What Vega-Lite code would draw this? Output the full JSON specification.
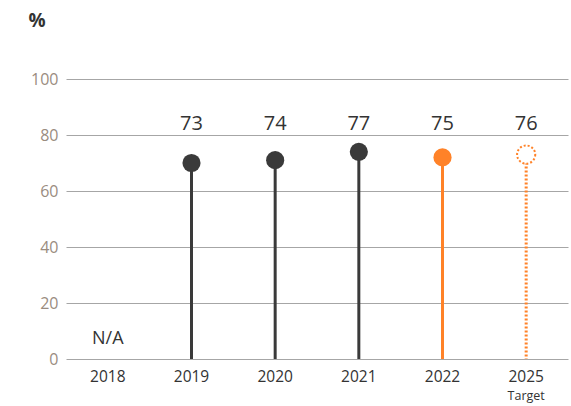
{
  "$schema": "https://vega.github.io/schema/vega-lite/v6.json",
  "width": 502,
  "height": 280,
  "autosize": "none",
  "padding": {"left": 66, "top": 79, "right": 3, "bottom": 47},
  "background": "white",
  "config": {"view": {"stroke": null}, "font": "Open Sans"},
  "data": {"values": [
    {"year": "2018", "value": null, "label": "", "type": "actual", "note": "N/A"},
    {"year": "2019", "value": 70, "label": "73", "type": "actual", "note": ""},
    {"year": "2020", "value": 71, "label": "74", "type": "actual", "note": ""},
    {"year": "2021", "value": 74, "label": "77", "type": "actual", "note": ""},
    {"year": "2022", "value": 72, "label": "75", "type": "current", "note": ""},
    {"year": "2025", "value": 73, "label": "76", "type": "target", "note": "Target"}
  ]},
  "encoding": {
    "x": {"field": "year", "type": "ordinal", "sort": null,
      "scale": {"domain": ["2018", "2019", "2020", "2021", "2022", "2025"], "paddingInner": 0, "paddingOuter": 0},
      "axis": {"title": null, "labelAngle": 0, "domain": false, "ticks": false, "labelPadding": 10, "labelFontSize": 15.5, "labelColor": "#333333", "grid": false}}
  },
  "layer": [
    {
      "transform": [{"filter": "datum.value != null"}],
      "mark": {"type": "rule"},
      "encoding": {
        "y": {"field": "value", "type": "quantitative", "scale": {"domain": [0, 100], "nice": false},
          "axis": {"title": "%", "titleAngle": 0, "titleX": -38, "titleY": -59, "titleAlign": "left", "titleBaseline": "middle", "titleFontSize": 19, "titleFontWeight": "bold", "titleColor": "#333333",
            "values": [0, 20, 40, 60, 80, 100], "domain": false, "ticks": false, "labelPadding": 8, "labelFontSize": 16, "labelColor": "#9a8c80", "grid": true, "gridColor": "#a6a6a6", "gridWidth": 1}},
        "y2": {"datum": 0},
        "color": {"field": "type", "type": "nominal", "legend": null,
          "scale": {"domain": ["actual", "current", "target"], "range": ["#3a3a3a", "#ff8228", "#ff8228"]}},
        "strokeDash": {"field": "type", "type": "nominal", "legend": null,
          "scale": {"domain": ["actual", "current", "target"], "range": [[1, 0], [1, 0], [2, 2]]}},
        "strokeWidth": {"field": "type", "type": "nominal", "legend": null,
          "scale": {"domain": ["actual", "current", "target"], "range": [3, 3, 2]}}
      }
    },
    {
      "transform": [{"filter": "datum.value != null && datum.type != 'target'"}],
      "mark": {"type": "circle", "size": 330, "opacity": 1},
      "encoding": {
        "y": {"field": "value", "type": "quantitative"},
        "color": {"field": "type", "type": "nominal", "legend": null}
      }
    },
    {
      "transform": [{"filter": "datum.type == 'target'"}],
      "mark": {"type": "point", "size": 330, "filled": false, "fill": "white", "strokeWidth": 2, "strokeDash": [2, 2], "opacity": 1},
      "encoding": {
        "y": {"field": "value", "type": "quantitative"},
        "color": {"field": "type", "type": "nominal", "legend": null}
      }
    },
    {
      "mark": {"type": "text", "fontSize": 20, "color": "#333333", "baseline": "middle"},
      "encoding": {
        "y": {"datum": 84, "type": "quantitative"},
        "text": {"field": "label"}
      }
    },
    {
      "transform": [{"filter": "datum.note == 'N/A'"}],
      "mark": {"type": "text", "fontSize": 18, "color": "#333333", "baseline": "middle"},
      "encoding": {
        "y": {"datum": 7, "type": "quantitative"},
        "text": {"field": "note"}
      }
    },
    {
      "transform": [{"filter": "datum.note == 'Target'"}],
      "mark": {"type": "text", "fontSize": 12.5, "color": "#333333", "baseline": "alphabetic"},
      "encoding": {
        "y": {"datum": -14.5, "type": "quantitative"},
        "text": {"field": "note"}
      }
    }
  ]
}
